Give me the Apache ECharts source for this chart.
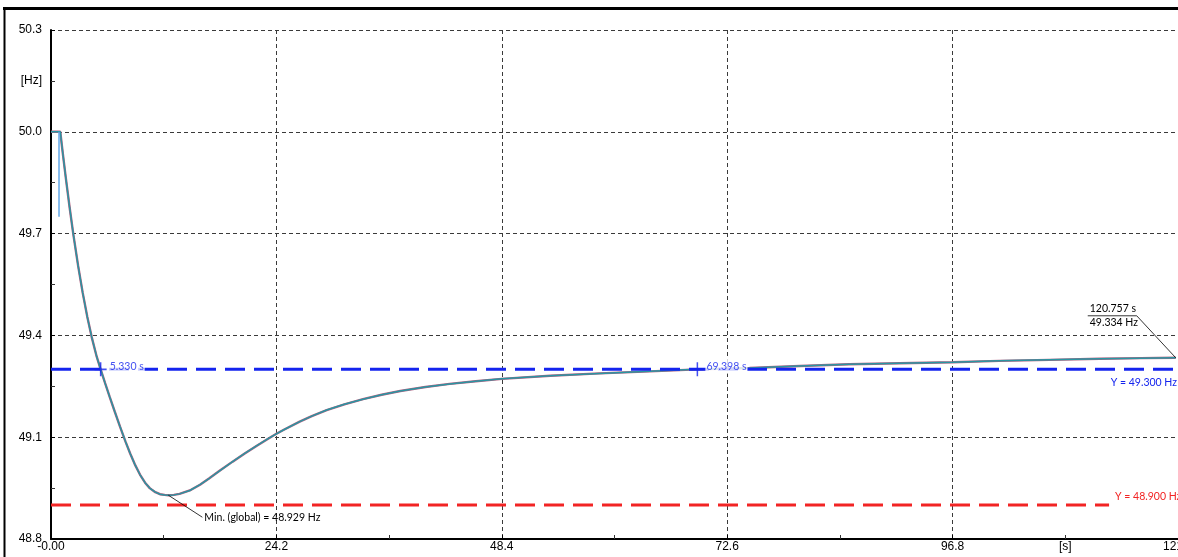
<!DOCTYPE html>
<html>
<head>
<meta charset="utf-8">
<script src="https://cdn.jsdelivr.net/npm/echarts@6/dist/echarts.min.js"></script>
<style>
  html, body { margin: 0; padding: 0; background: #fff; }
  #chart { width: 1178px; height: 557px; }
</style>
</head>
<body>
<div id="chart"></div>
<script>
// Frequency response after the disturbance [s, Hz]
const timeS = [0, 1.0, 1.15, 1.3, 1.6, 2.0, 2.39, 2.9, 3.4, 3.9, 4.37, 4.9, 5.33, 5.8, 6.3, 6.85, 7.4, 8.0, 8.5,
  9.0, 9.55, 10.1, 10.6, 11.2, 11.7, 12.2, 12.6, 13.2, 13.8, 14.9, 16.0, 17.0, 18.1, 19.5, 20.8, 22.1, 23.4,
  24.2, 25.0, 26.7, 28.0, 29.6, 31.5, 33.5, 35.5, 37.5, 40.2, 42.8, 45.6, 48.4, 53.6, 58.9, 64.3, 69.4, 75.0,
  80.4, 85.7, 91.1, 96.8, 101.8, 107.2, 112.6, 117.0, 120.757];
const freqHz = [50.0, 50.0, 49.964, 49.929, 49.862, 49.777, 49.699, 49.607, 49.526, 49.454, 49.395, 49.338, 49.3,
  49.26, 49.219, 49.175, 49.132, 49.087, 49.052, 49.02, 48.99, 48.966, 48.95, 48.938, 48.932, 48.93, 48.929,
  48.93, 48.933, 48.943, 48.96, 48.979, 49.001, 49.028, 49.052, 49.075, 49.097, 49.11, 49.122, 49.146, 49.162,
  49.18, 49.197, 49.212, 49.225, 49.236, 49.248, 49.257, 49.265, 49.272, 49.281, 49.288, 49.294, 49.3, 49.304,
  49.31, 49.315, 49.318, 49.321, 49.325, 49.328, 49.331, 49.333, 49.334];

// Short transient at switching
const spikeTime = [0.86, 0.86];
const spikeFreq = [50.0, 49.75];

// Limit lines
const limitBlueHz = 49.3;
const limitRedHz = 48.9;
const limitRedEndS = 113.6;

// Cursor marks on the 49.3 Hz limit
const cursorTimes = [5.330, 69.398];

// Annotated points
const minPoint = [12.6, 48.929];
const lastPoint = [120.757, 49.334];

// Axes
const xMin = 0, xMax = 121, xStep = 24.2;
const yMin = 48.8, yMax = 50.3, yStep = 0.3;
const xUnit = { at: 108.9, text: '[s]' };
const yUnit = { at: 50.15, text: '[Hz]' };

const AXIS_FONT = '"Liberation Sans", Arial, sans-serif';
const NOTE_FONT = 'Lato, "Liberation Sans", sans-serif';
const BLUE = '#1424ee';
const RED = '#f22424';

const curve = timeS.map((t, i) => [t, freqHz[i]]);
const spike = spikeTime.map((t, i) => [t, spikeFreq[i]]);

const chart = echarts.init(document.getElementById('chart'), null, { renderer: 'canvas' });

const gridDash = { color: '#3a3a3a', width: 1, type: [4, 3] };

chart.setOption({
  animation: false,
  backgroundColor: '#fff',
  grid: { left: 51, right: 0, top: 30, bottom: 18, containLabel: false, outerBoundsMode: 'none' },
  xAxis: {
    type: 'value', min: xMin, max: xMax, interval: xStep,
    axisLine: { show: true, lineStyle: { color: '#000', width: 2 } },
    axisTick: { show: true, inside: true, length: 4, lineStyle: { color: '#000' } },
    minorTick: { show: true, splitNumber: 2, length: 4, lineStyle: { color: '#333' } },
    splitLine: { show: true, lineStyle: gridDash },
    axisLabel: {
      color: '#000', fontFamily: AXIS_FONT, fontSize: 12, margin: 2,
      showMinLabel: true, showMaxLabel: true, hideOverlap: false,
      formatter: v => (v === 0 ? '-0.00' : v.toFixed(1))
    }
  },
  yAxis: {
    type: 'value', min: yMin, max: yMax, interval: yStep,
    axisLine: { show: true, lineStyle: { color: '#000', width: 2 } },
    axisTick: { show: true, inside: true, length: 4, lineStyle: { color: '#000' } },
    minorTick: { show: true, splitNumber: 2, length: 4, lineStyle: { color: '#333' } },
    splitLine: { show: true, lineStyle: gridDash },
    axisLabel: {
      color: '#000', fontFamily: AXIS_FONT, fontSize: 12, margin: 9,
      formatter: v => v.toFixed(1)
    }
  },
  series: [
    {
      name: 'f-under', type: 'line', data: curve, showSymbol: false, z: 3,
      lineStyle: { color: '#b0607f', width: 2.4 }
    },
    {
      name: 'f', type: 'line', data: curve, showSymbol: false, z: 4,
      lineStyle: { color: '#2a95a2', width: 1.5 }
    },
    {
      name: 'spike', type: 'line', data: spike, showSymbol: false, z: 4,
      lineStyle: { color: '#62a8e8', width: 1.5 }
    },
    {
      name: 'limit-blue', type: 'line', z: 5, showSymbol: false,
      data: [[xMin, limitBlueHz], [xMax, limitBlueHz]],
      lineStyle: { color: BLUE, width: 3, type: [20, 9] },
      endLabel: {
        show: true, formatter: 'Y = ' + limitBlueHz.toFixed(3) + ' Hz',
        color: BLUE, fontFamily: NOTE_FONT, fontSize: 10.5,
        align: 'right', distance: 0, offset: [-1, 13]
      }
    },
    {
      name: 'limit-red', type: 'line', z: 5, showSymbol: false,
      data: [[xMin, limitRedHz], [limitRedEndS, limitRedHz]],
      lineStyle: { color: RED, width: 3, type: [20, 9] },
      endLabel: {
        show: true, formatter: 'Y = ' + limitRedHz.toFixed(3) + ' Hz',
        color: RED, fontFamily: NOTE_FONT, fontSize: 10.5,
        align: 'left', distance: 6, offset: [0, -8]
      }
    },
    {
      name: 'cursors', type: 'scatter', z: 8,
      data: cursorTimes.map(t => [t, limitBlueHz]),
      symbol: 'path://M0,5.25H12V6.75H0Z M5.25,0H6.75V12H5.25Z',
      symbolSize: [12, 14],
      itemStyle: { color: BLUE },
      label: {
        show: true, position: 'right', distance: 2, offset: [0, -3],
        formatter: p => p.value[0].toFixed(3) + ' s',
        color: BLUE, fontFamily: NOTE_FONT, fontSize: 10.5,
        backgroundColor: '#fff', padding: [2, 1]
      }
    }
  ]
});

// Unit labels and point annotations placed through the axes' own scales
const px = v => chart.convertToPixel({ xAxisIndex: 0, yAxisIndex: 0 }, v);
const xAxisY = px([xMin, yMin])[1];
const yAxisX = px([xMin, yMin])[0];
const sUnitX = chart.convertToPixel({ xAxisIndex: 0 }, xUnit.at);
const hzUnitY = chart.convertToPixel({ yAxisIndex: 0 }, yUnit.at);
const pMin = px(minPoint);
const pLast = px(lastPoint);

const noteStyle = (extra) => Object.assign({ fill: '#000', font: '10.5px ' + NOTE_FONT }, extra);

chart.setOption({
  graphic: [
    // outer frame
    { type: 'line', shape: { x1: 3, y1: 8.5, x2: 1178, y2: 8.5 }, style: { stroke: '#000', lineWidth: 3 }, z: 100 },
    { type: 'line', shape: { x1: 4.5, y1: 8, x2: 4.5, y2: 557 }, style: { stroke: '#000', lineWidth: 2 }, z: 100 },
    // unit labels
    { type: 'text', x: sUnitX, y: xAxisY + 2,
      style: { text: xUnit.text, fill: '#000', font: '12px ' + AXIS_FONT, textAlign: 'center', textVerticalAlign: 'top' } },
    { type: 'text', x: yAxisX - 9, y: hzUnitY,
      style: { text: yUnit.text, fill: '#000', font: '12px ' + AXIS_FONT, textAlign: 'right', textVerticalAlign: 'middle' } },
    // global minimum
    { type: 'polyline', z: 50, shape: { points: [[pMin[0], pMin[1]], [pMin[0] + 34, pMin[1] + 22]] },
      style: { stroke: '#000', lineWidth: 0.8, fill: null } },
    { type: 'text', z: 50, x: pMin[0] + 36, y: pMin[1] + 22,
      style: noteStyle({ text: 'Min. (global) = ' + minPoint[1].toFixed(3) + ' Hz', textAlign: 'left', textVerticalAlign: 'middle' }) },
    // last value
    { type: 'polyline', z: 50,
      shape: { points: [[pLast[0], pLast[1]], [pLast[0] - 39, pLast[1] - 42], [pLast[0] - 88, pLast[1] - 42]] },
      style: { stroke: '#000', lineWidth: 0.8, fill: null } },
    { type: 'text', z: 50, x: pLast[0] - 86, y: pLast[1] - 44,
      style: noteStyle({ text: lastPoint[0].toFixed(3) + ' s', textAlign: 'left', textVerticalAlign: 'bottom' }) },
    { type: 'text', z: 50, x: pLast[0] - 86, y: pLast[1] - 41,
      style: noteStyle({ text: lastPoint[1].toFixed(3) + ' Hz', textAlign: 'left', textVerticalAlign: 'top' }) }
  ]
});
</script>
</body>
</html>
